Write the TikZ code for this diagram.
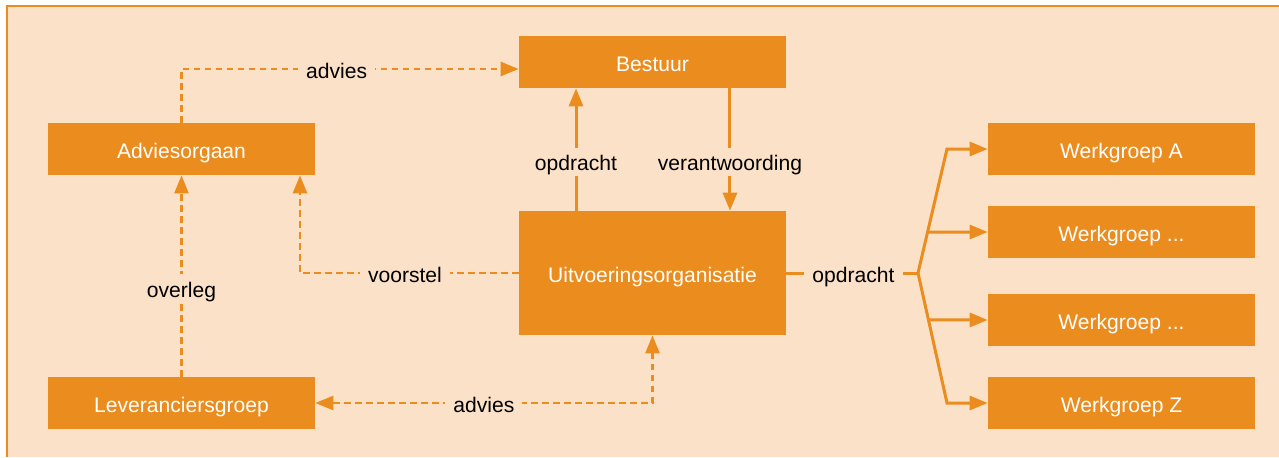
\documentclass[tikz,border=0pt]{standalone}
\usepackage{fontspec}
\setmainfont{Liberation Sans}
\usetikzlibrary{arrows.meta, positioning}
\definecolor{org-orange}{RGB}{234,140,30}
\definecolor{org-bg}{RGB}{251,225,200}

\begin{document}
\begin{tikzpicture}[x=0.02cm, y=-0.02cm,
  box/.style={fill=org-orange, text=white, minimum width=5.34cm, minimum height=1.04cm, inner sep=0pt, text height=0.42cm, text depth=0.06cm, font=\fontsize{12}{14}\selectfont},
  lbl/.style={fill=org-bg, text=black, inner xsep=0.16cm, inner ysep=0.04cm, text height=0.42cm, text depth=0.06cm, font=\fontsize{12}{14}\selectfont},
  link/.style={draw=org-orange, line width=0.06cm},
  dashlink/.style={draw=org-orange, line width=0.05cm, dash pattern=on 0.13cm off 0.09cm},
  tip/.style={-{Triangle[length=0.36cm, width=0.28cm]}},
  tips/.style={{Triangle[length=0.36cm, width=0.28cm]}-{Triangle[length=0.36cm, width=0.28cm]}},
]
  % Frame
  \useasboundingbox (0,0) rectangle (1279,457);
  \fill[org-bg] (7,6) rectangle (1279,457);
  \draw[org-orange, line width=0.04cm] (7,457) -- (7,6) -- (1279,6);

  % Boxes
  \node[box] (bestuur) at (652.5,62) {Bestuur};
  \node[box] (adviesorgaan) at (181.5,149) {Adviesorgaan};
  \node[box] (leveranciers) at (181.5,403) {Leveranciersgroep};
  \node[box, minimum height=2.48cm] (uitvoering) at (652.5,273) {Uitvoeringsorganisatie};
  \node[box] (wgA) at (1121.5,149) {Werkgroep A};
  \node[box] (wgB) at (1121.5,232) {Werkgroep ...};
  \node[box] (wgC) at (1121.5,320) {Werkgroep ...};
  \node[box] (wgZ) at (1121.5,403) {Werkgroep Z};

  % Advice and proposals (dashed)
  \draw[dashlink, tip] (adviesorgaan.north) |- node[lbl, pos=0.73] {advies} ([yshift=-0.14cm]bestuur.west);
  \draw[dashlink, tip] (uitvoering.west) -| node[lbl, pos=0.26] {voorstel} ([xshift=2.37cm]adviesorgaan.south);
  \draw[dashlink, tip] (leveranciers.north) -- node[lbl, pos=0.44] {overleg} (adviesorgaan.south);
  \draw[dashlink, tips] (uitvoering.south) |- node[lbl, pos=0.75] {advies} (leveranciers.east);

  % Assignment and accountability
  \draw[link, tip] ([xshift=-1.53cm]uitvoering.north) -- node[lbl, pos=0.4] {opdracht} ([xshift=-1.53cm]bestuur.south);
  \draw[link, tip] ([xshift=1.55cm]bestuur.south) -- node[lbl, pos=0.6] {verantwoording} ([xshift=1.55cm]uitvoering.north);

  % Working groups
  \coordinate (split) at (918,273);
  \coordinate (topbend) at (947,149);
  \coordinate (botbend) at (947,403);
  \path (split) -- (topbend) coordinate[pos=0.33] (midtop);
  \path (split) -- (botbend) coordinate[pos=0.36] (midbot);
  \draw[link] (uitvoering.east) -- node[lbl, pos=0.51] {opdracht} (split);
  \draw[link, tip] (split) -- (topbend) -- (wgA.west);
  \draw[link, tip] (split) -- (botbend) -- (wgZ.west);
  \draw[link, tip] (midtop) -- (wgB.west);
  \draw[link, tip] (midbot) -- (wgC.west);
\end{tikzpicture}
\end{document}
